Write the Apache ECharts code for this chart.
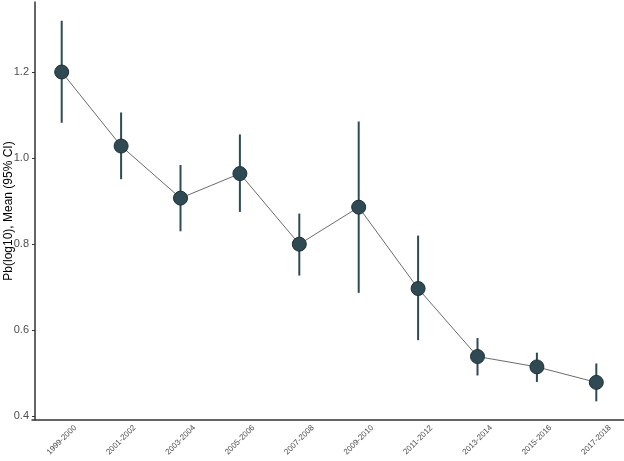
<!DOCTYPE html>
<html>
<head>
<meta charset="utf-8">
<script src="https://cdn.jsdelivr.net/npm/echarts@6/dist/echarts.min.js"></script>
<style>
  html, body { margin: 0; padding: 0; background: #fff; }
  #chart { width: 624px; height: 461px; }
</style>
</head>
<body>
<div id="chart"></div>
<script>
// periods on the x axis
const periods = ['1999-2000', '2001-2002', '2003-2004', '2005-2006', '2007-2008',
  '2009-2010', '2011-2012', '2013-2014', '2015-2016', '2017-2018']
// mean Pb(log10) and 95% CI
const means = [1.200, 1.028, 0.907, 0.964, 0.800, 0.886, 0.697, 0.539, 0.515, 0.479]
const ciLow = [1.082, 0.951, 0.830, 0.875, 0.727, 0.687, 0.577, 0.495, 0.480, 0.435]
const ciHigh = [1.319, 1.106, 0.984, 1.055, 0.871, 1.085, 0.820, 0.582, 0.548, 0.523]
const yTicks = [0.4, 0.6, 0.8, 1.0, 1.2]

const dotColor = '#2f4a52'
const textGrey = '#4d4d4d'

const chart = echarts.init(document.getElementById('chart'))

// error bars: one vertical segment per period
const ciData = periods.map((p, i) => [i, ciLow[i], ciHigh[i]])

chart.setOption({
  animation: false,
  grid: { left: 32, right: -2, top: 2, bottom: 41, containLabel: false, outerBoundsMode: 'none' },
  xAxis: {
    type: 'category',
    data: periods,
    boundaryGap: true,
    axisLine: { lineStyle: { color: '#333', width: 1.5 } },
    axisTick: { alignWithLabel: true, length: 3, lineStyle: { color: '#333' } },
    axisLabel: {
      rotate: 45,
      align: 'center',
      verticalAlign: 'middle',
      margin: 20,
      fontSize: 8,
      color: textGrey,
      fontFamily: 'Liberation Sans, Arial, sans-serif'
    },
    splitLine: { show: false }
  },
  yAxis: {
    type: 'value',
    min: 0.3916,
    max: 1.3626,
    offset: -3,
    name: 'Pb(log10), Mean (95% CI)',
    nameLocation: 'middle',
    nameGap: 20,
    nameMoveOverlap: false,
    nameTextStyle: { color: '#000', fontSize: 12, fontFamily: 'Liberation Sans, Arial, sans-serif' },
    axisLine: { show: true, lineStyle: { color: '#333', width: 1.5 } },
    axisTick: { show: true, length: 3, customValues: yTicks, lineStyle: { color: '#333' } },
    axisLabel: {
      customValues: yTicks,
      formatter: (v) => v.toFixed(1),
      fontSize: 11,
      margin: 6,
      color: textGrey,
      fontFamily: 'Liberation Sans, Arial, sans-serif'
    },
    splitLine: { show: false }
  },
  series: [
    {
      type: 'line',
      data: means,
      showSymbol: false,
      lineStyle: { color: '#6b6b6b', width: 1 },
      z: 1
    },
    {
      type: 'custom',
      data: ciData,
      renderItem: (params, api) => {
        const lo = api.coord([api.value(0), api.value(1)])
        const hi = api.coord([api.value(0), api.value(2)])
        return {
          type: 'line',
          shape: { x1: lo[0], y1: lo[1], x2: hi[0], y2: hi[1] },
          style: { stroke: dotColor, lineWidth: 2 }
        }
      },
      z: 2
    },
    {
      type: 'scatter',
      data: means,
      symbol: 'circle',
      symbolSize: 14,
      itemStyle: { color: dotColor, borderColor: '#1e3036', borderWidth: 1, opacity: 1 },
      z: 3
    }
  ]
})
</script>
</body>
</html>
